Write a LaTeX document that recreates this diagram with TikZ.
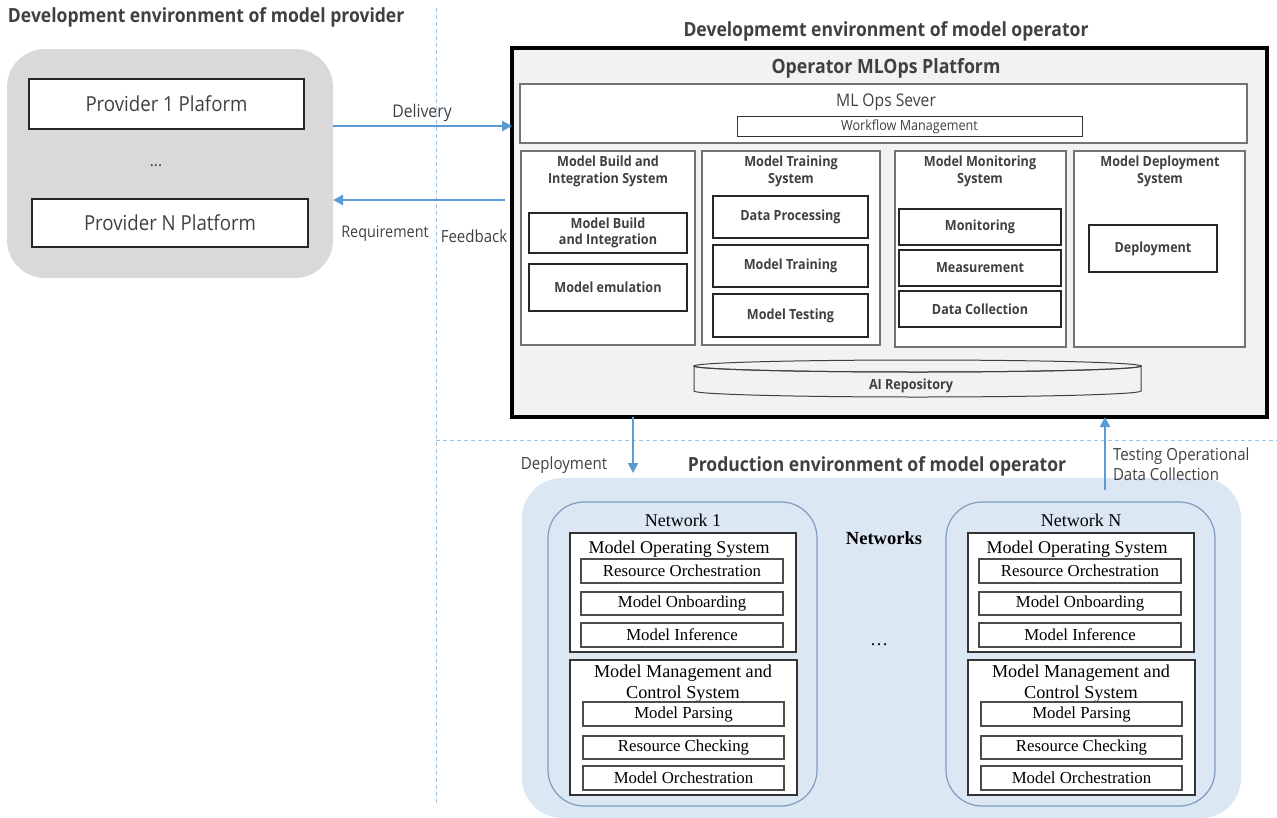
\documentclass[tikz,border=0pt]{standalone}
\usepackage{fontspec}
\usetikzlibrary{arrows.meta}
\newfontfamily\os[FakeStretch=0.9]{Open Sans}
\newfontfamily\tms{Liberation Serif}
\definecolor{txt}{HTML}{404040}
\definecolor{arrblue}{HTML}{5B9BD5}
\definecolor{dashblue}{HTML}{9DC3E6}
\definecolor{provgray}{HTML}{D9D9D9}
\definecolor{platgray}{HTML}{F2F2F2}
\definecolor{prodblue}{HTML}{DCE7F4}
\definecolor{netline}{HTML}{7F9DBF}
\newcommand\fs[1]{\fontsize{#1}{#1}\selectfont}
\newcommand\fsb[2]{\fontsize{#1}{#2}\selectfont}
\tikzset{
  every node/.style={font=\os, text=txt, inner sep=0pt, outer sep=0pt},
  provbox/.style={draw=black!85, line width=2.5pt, fill=white, font=\os\fs{20.7}},
  sysbox/.style={draw=black!55, line width=1.5pt, fill=white},
  inbox/.style={draw=black!85, line width=1.1pt, fill=white, font=\os\bfseries\fsb{14}{16.5}},
  systitle/.style={font=\os\bfseries\fsb{14}{16.5}, align=center},
  arr/.style={draw=arrblue, line width=2.8pt, -{Triangle[length=10pt,width=10pt]}},
  sepline/.style={draw=dashblue, line width=1pt, dash pattern=on 4pt off 3pt},
  lbl/.style={font=\os\fs{16.8}},
  ttl/.style={font=\os\bfseries\fs{19.5}},
  netbox/.style={draw=netline, line width=1.2pt, rounded corners=36pt, fill=prodblue},
  osbox/.style={draw=black!80, line width=2.6pt, fill=white},
  osin/.style={draw=black!70, line width=1.4pt, fill=white, font=\tms\fs{16.8}, text=black},
  sertxt/.style={font=\tms\fs{18}, text=black, align=center},
}
\newcommand\mynet[2]{%
  \node[netbox, minimum width=269, minimum height=304] (net#1) at (682.5,654) {};
  \node[sertxt] (nettitle#1) at (683,520) {#2};
  \node[osbox, minimum width=226, minimum height=119] (mos#1) at (683,592.5) {};
  \node[sertxt] (mostitle#1) at (679,549) {Model Operating System};
  \node[osin, minimum width=202, minimum height=24] (ro#1) at (682,571) {Resource Orchestration};
  \node[osin, minimum width=202, minimum height=23] (mo#1) at (682,603.5) {Model Onboarding};
  \node[osin, minimum width=202, minimum height=24] (mi#1) at (682,635) {Model Inference};
  \node[osbox, minimum width=227, minimum height=135] (mms#1) at (683.5,727.5) {};
  \node[sertxt, font=\tms\fsb{18.2}{21}] (mmstitle#1) at (683,684) {Model Management and\\Control System};
  \node[osin, minimum width=201, minimum height=24] (mp#1) at (683.5,714) {Model Parsing};
  \node[osin, minimum width=201, minimum height=23] (rc#1) at (683.5,747.5) {Resource Checking};
  \node[osin, minimum width=201, minimum height=24] (mor#1) at (683.5,778) {Model Orchestration};
}
\begin{document}
\begin{tikzpicture}[x=1pt,y=-1pt]
\useasboundingbox (0,0) rectangle (1277,817);
% separators
\draw[sepline] (436,8) -- (436,805);
\draw[sepline] (436,440) -- (1277,440);

% provider environment
\node[ttl, anchor=west] (provtitle) at (8,17) {Development environment of model provider};
\node[fill=provgray, rounded corners=38pt, minimum width=326, minimum height=229] (provenv) at (170,163.5) {};
\node[provbox, minimum width=275, minimum height=50] (prov1) at (166.5,104) {Provider 1 Plaform};
\node[font=\os\fs{17}] (provdots) at (156,166) {...};
\node[provbox, minimum width=276, minimum height=48] (provN) at (170,223) {Provider N Platform};

% operator development environment
\node[ttl] (optitle) at (886,31) {Developmemt environment of model operator};
\node[draw=black, line width=3.5pt, fill=platgray, minimum width=755, minimum height=369] (main) at (889.5,232.5) {};
\node[font=\os\bfseries\fs{19.7}] (maintitle) at (886,68) {Operator MLOps Platform};
\node[draw=black!55, line width=1.2pt, fill=white, minimum width=727, minimum height=59] (server) at (883.5,113.5) {};
\node[font=\os\fs{17.4}] (servertitle) at (886,102) {ML Ops Sever};
\node[draw=black!80, line width=1pt, fill=white, minimum width=345, minimum height=20, font=\os\fs{14}] (workflow) at (909.5,126.5) {Workflow Management};

\node[sysbox, minimum width=174, minimum height=194] (sys1) at (608,248) {};
\node[sysbox, minimum width=178, minimum height=194] (sys2) at (791,248) {};
\node[sysbox, minimum width=171, minimum height=196] (sys3) at (980.5,249) {};
\node[sysbox, minimum width=171, minimum height=196] (sys4) at (1159.5,249) {};
\node[systitle] (sys1t) at (608,171.5) {Model Build and\\Integration System};
\node[systitle] (sys2t) at (791,171.5) {Model Training\\System};
\node[systitle] (sys3t) at (980,171.5) {Model Monitoring\\System};
\node[systitle] (sys4t) at (1160,171.5) {Model Deployment\\System};

\node[inbox, minimum width=158, minimum height=40, align=center] (mbi) at (608,233) {Model Build\\and Integration};
\node[inbox, minimum width=158, minimum height=47] (memu) at (608,287.5) {Model emulation};
\node[inbox, minimum width=155, minimum height=42] (dproc) at (790.5,217) {Data Processing};
\node[inbox, minimum width=155, minimum height=42] (mtrain) at (790.5,266) {Model Training};
\node[inbox, minimum width=155, minimum height=43] (mtest) at (790.5,315.5) {Model Testing};
\node[inbox, minimum width=162, minimum height=36] (monit) at (980,227) {Monitoring};
\node[inbox, minimum width=162, minimum height=36] (meas) at (980,268) {Measurement};
\node[inbox, minimum width=162, minimum height=36] (dcoll) at (980,309) {Data Collection};
\node[inbox, minimum width=128, minimum height=47] (deploy) at (1153,248.5) {Deployment};

% AI repository cylinder
\node[minimum width=447, minimum height=37] (repo) at (917.5,378.5) {};
\draw[black!75, line width=1pt, fill=platgray] (repo.west |- 0,366) -- (repo.west |- 0,391)
  arc[start angle=180, end angle=0, x radius=223.5, y radius=6] -- (repo.east |- 0,366)
  arc[start angle=0, end angle=180, x radius=223.5, y radius=6] -- cycle;
\draw[black!75, line width=1pt] (917.5,366) ellipse[x radius=223.5, y radius=6];
\node[font=\os\bfseries\fs{14}] (repolabel) at (911,386) {AI Repository};

% arrows between provider and operator
\draw[arr] (provenv.east |- 0,126) -- (main.west |- 0,126);
\node[lbl, font=\os\fs{17.5}] (delivery) at (422,113) {Delivery};
\coordinate (reqstart) at (505,200);
\draw[arr] (reqstart) -- (provenv.east |- reqstart);
\node[lbl, font=\os\fs{16}] (req) at (385,234) {Requirement};
\node[lbl, font=\os\fs{16.7}] (feedback) at (474,236) {Feedback};

% production environment
\node[fill=prodblue, rounded corners=40pt, minimum width=719, minimum height=340] (prod) at (881.5,648) {};
\node[ttl] (prodtitle) at (877,466) {Production environment of model operator};
\coordinate (deptip) at (633,473);
\draw[arr] (main.south -| deptip) -- (deptip);
\node[lbl] (deplabel) at (564,465) {Deployment};
\coordinate (tcstart) at (1105,490);
\draw[arr] (tcstart) -- (main.south -| tcstart);
\node[lbl, anchor=north west, align=left, font=\os\fsb{16.7}{19.5}] (tclabel) at (1113,448) {Testing Operational\\Data Collection};

\mynet{1}{Network 1}
\begin{scope}[xshift=398pt]
\mynet{N}{Network N}
\end{scope}
\node[sertxt, font=\tms\bfseries\fs{18.5}] (networks) at (884,538) {Networks};
\node[sertxt] (netdots) at (879,645) {\dots};
\end{tikzpicture}
\end{document}
